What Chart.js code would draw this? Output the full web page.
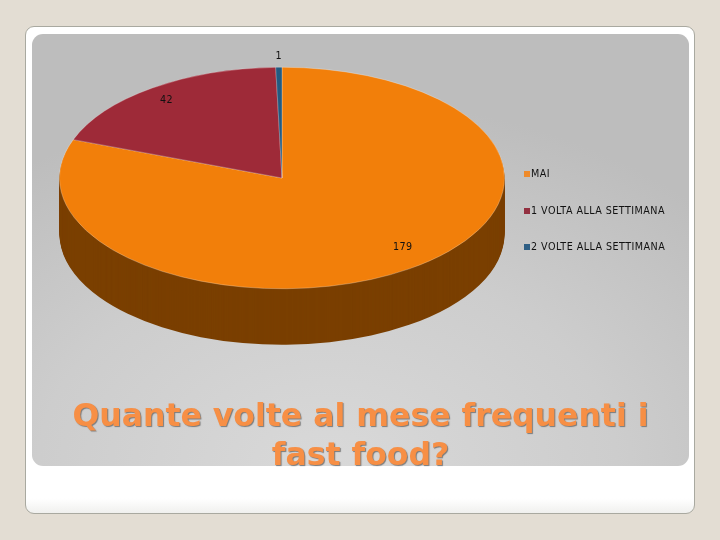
<!DOCTYPE html>
<html lang="it">
<head>
    <meta charset="UTF-8">
    <title>Quante volte al mese frequenti i fast food?</title>
    <script src="https://cdn.jsdelivr.net/npm/chart.js"></script>
    <style>
        html, body { margin: 0; padding: 0; width: 720px; height: 540px; overflow: hidden; background: #e3ddd3; }
        .card {
            position: absolute; left: 25px; top: 26px; width: 668px; height: 486px; box-sizing: content-box;
            background: linear-gradient(#fff 97%, #f0f0ee 100%); border: 1px solid #a9a9a0; border-radius: 9px;
        }
        .panel {
            position: absolute; left: 32px; top: 34px; width: 657px; height: 432px; border-radius: 11px;
            background: radial-gradient(ellipse 80% 85% at 45% 100%, #d9d9d9 0%, #cdcdcd 55%, #bdbdbd 100%);
        }
        canvas { position: absolute; left: 0; top: 0; }
        #legend { position: absolute; left: 0; top: 0; font: 9.6px "DejaVu Sans", sans-serif; letter-spacing: 0.45px; color: #111; }
        #legend div { position: absolute; white-space: nowrap; line-height: 12px; left: 524px; }
        #legend i { display: inline-block; width: 6px; height: 6px; margin-right: 1px; vertical-align: 0; }
        h1 {
            position: absolute; left: 32px; top: 396px; width: 657px; margin: 0; text-align: center;
            font: bold 31.5px/39px "DejaVu Sans", sans-serif; color: #f78f45; text-shadow: 1px 1px 1px #7a7a7a;
        }
    </style>
</head>
<body>
    <div class="card"></div>
    <div class="panel"></div>
    <canvas id="pie" width="720" height="540"></canvas>
    <div id="legend"></div>
    <h1>Quante volte al mese frequenti i<br>fast food?</h1>
    <script>
        const categories = ['MAI', '1 VOLTA ALLA SETTIMANA', '2 VOLTE ALLA SETTIMANA'];
        const counts = [179, 42, 1];
        const colors = ['#f27f0a', '#9e2a38', '#235a80'];
        const sideColors = ['#7a3f00', '#5a1820', '#123048'];
        const legendColors = ['#ee8a2a', '#933040', '#2f5f85'];

        // pie is laid out as a circle, then squashed into the ellipse of the 3D look
        const pieCenterY = 178;
        const squash = 111 / 223;
        const depth = 56;
        const legendTops = [168, 205, 241];
        // label distance from centre, as a share of radius (x, y)
        const labelReach = [[0.95, 0.77], [0.89, 0.86], [1.0, 1.1]];

        function applySquash(ctx, chart, shift) {
            const cy = (chart.chartArea.top + chart.chartArea.bottom) / 2;
            ctx.translate(0, pieCenterY + shift);
            ctx.scale(1, squash);
            ctx.translate(0, -cy);
        }

        const pie3d = {
            id: 'pie3d',
            beforeDatasetsDraw(chart) {
                const ctx = chart.ctx;
                const arcs = chart.getDatasetMeta(0).data;
                // side wall: the same arcs repeated downwards in the darker colour
                for (let d = depth; d > 0; d--) {
                    arcs.forEach((arc, i) => {
                        const saved = arc.options;
                        arc.options = Object.assign({}, saved, { backgroundColor: sideColors[i], borderWidth: 0 });
                        ctx.save();
                        applySquash(ctx, chart, d);
                        arc.draw(ctx);
                        ctx.restore();
                        arc.options = saved;
                    });
                }
                ctx.save();
                applySquash(ctx, chart, 0);
            },
            afterDatasetsDraw(chart) {
                const ctx = chart.ctx;
                ctx.restore();
                ctx.font = '9.6px "DejaVu Sans", sans-serif';
                ctx.letterSpacing = '0.45px';
                ctx.fillStyle = '#111';
                ctx.textAlign = 'center';
                ctx.textBaseline = 'middle';
                chart.getDatasetMeta(0).data.forEach((arc, i) => {
                    const mid = (arc.startAngle + arc.endAngle) / 2;
                    const x = arc.x + Math.cos(mid) * arc.outerRadius * labelReach[i][0];
                    const y = pieCenterY + Math.sin(mid) * arc.outerRadius * squash * labelReach[i][1];
                    ctx.fillText(String(counts[i]), x, y);
                });
            }
        };

        new Chart(document.getElementById('pie'), {
            type: 'pie',
            data: {
                labels: categories,
                datasets: [{
                    data: counts,
                    backgroundColor: colors,
                    borderColor: 'rgba(255,255,255,0.35)',
                    borderWidth: 1
                }]
            },
            options: {
                responsive: false,
                animation: false,
                devicePixelRatio: 1,
                layout: { padding: { left: 59, right: 215, top: 47, bottom: 47 } },
                plugins: { legend: { display: false }, tooltip: { enabled: false } }
            },
            plugins: [pie3d]
        });

        const legend = document.getElementById('legend');
        categories.forEach((name, i) => {
            const row = document.createElement('div');
            row.style.top = legendTops[i] + 'px';
            row.innerHTML = '<i style="background:' + legendColors[i] + '"></i>' + name;
            legend.appendChild(row);
        });
    </script>
</body>
</html>
